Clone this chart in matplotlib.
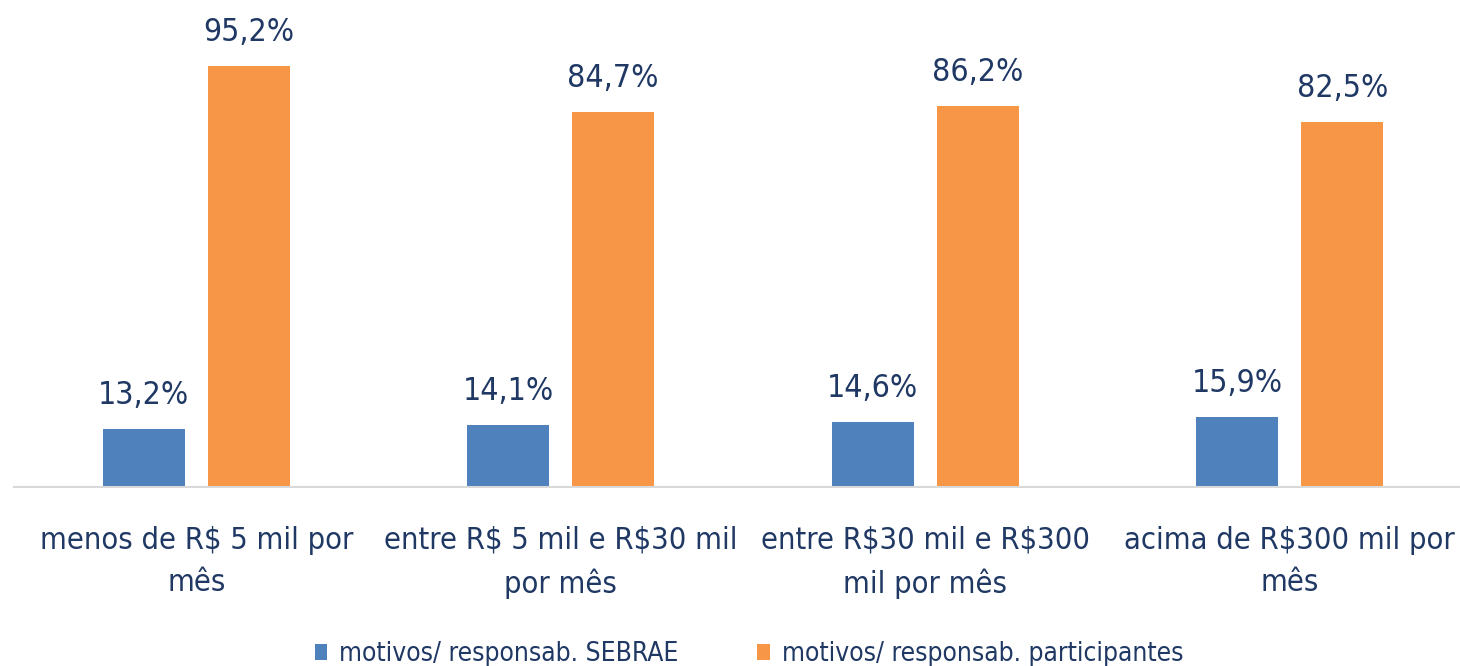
import matplotlib
matplotlib.use("Agg")
import matplotlib.pyplot as plt
import numpy as np
from matplotlib import font_manager
import os

plt.rcParams['text.parse_math'] = False

categories = ["menos de R$ 5 mil por\nmês", "entre R$ 5 mil e R$30 mil\npor mês",
              "entre R$30 mil e R$300\nmil por mês", "acima de R$300 mil por\nmês"]
series_names = ["motivos/ responsab. SEBRAE", "motivos/ responsab. participantes"]
sebrae = [13.2, 14.1, 14.6, 15.9]
participantes = [95.2, 84.7, 86.2, 82.5]

# find a narrow font
paths = [f.fname for f in font_manager.fontManager.ttflist]
narrow = None
kind = "dejavu"
for p in paths:
    b = os.path.basename(p).lower()
    if "liberationsansnarrow-regular" in b:
        narrow = p; kind = "narrow"; break
if narrow is None:
    for p in paths:
        b = os.path.basename(p).lower()
        if b == "dejavusanscondensed.ttf":
            narrow = p; kind = "condensed"; break

def fp(size):
    if narrow:
        return font_manager.FontProperties(fname=narrow, size=size)
    return font_manager.FontProperties(family="DejaVu Sans", stretch="condensed", size=size)

scale = {"narrow": 1.0, "condensed": 0.85, "dejavu": 0.8}[kind]

W, H = 1460, 666
fig = plt.figure(figsize=(W/100, H/100), dpi=100)
left = 14 / W
ax = fig.add_axes([left, (H - 487) / H, 1 - left, 487 / H])

text_color = "#1F3864"
blue = "#4F81BD"
orange = "#F79646"

x = np.arange(len(categories))
bw = 0.225
off = 0.144
b1 = ax.bar(x - off, sebrae, bw, color=blue, label=series_names[0])
b2 = ax.bar(x + off, participantes, bw, color=orange, label=series_names[1])

def fmt(v):
    return f"{v:.1f}%".replace(".", ",")

for bars, vals in ((b1, sebrae), (b2, participantes)):
    for r, v in zip(bars, vals):
        ax.annotate(fmt(v), (r.get_x() + r.get_width() / 2, v), xytext=(0, 13),
                    textcoords="offset points", ha="center", va="bottom",
                    fontproperties=fp(27 * scale), color=text_color)

ax.set_xlim(-0.5, (W - 14) / 364.5 - 0.5)
ax.set_ylim(0, 110.1)
ax.set_xticks(x)
ax.set_xticklabels(categories, fontproperties=fp(26 * scale), color=text_color, linespacing=1.55)
ax.tick_params(axis='x', length=0, pad=28)
ax.set_yticks([])
for s in ("top", "right", "left"):
    ax.spines[s].set_visible(False)
ax.spines["bottom"].set_color("#D9D9D9")
ax.spines["bottom"].set_linewidth(1.5)

fig.legend(handles=[b1, b2], labels=series_names, loc="lower center",
           bbox_to_anchor=(0.513, -0.037), ncol=2, frameon=False,
           prop=fp(22.2 * scale), labelcolor=text_color, handlelength=0.48, handleheight=0.55,
           handletextpad=0.45, columnspacing=3.0)

fig.savefig("out.png", dpi=100, facecolor="white")
